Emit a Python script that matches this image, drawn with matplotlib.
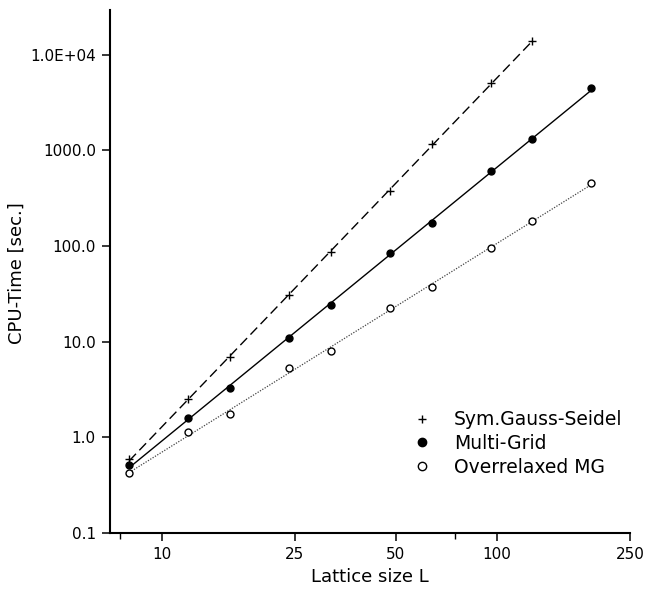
import numpy as np
import matplotlib
matplotlib.use('Agg')
import matplotlib.pyplot as plt
from matplotlib.ticker import FixedLocator, FixedFormatter, NullLocator


# lattice sizes and CPU times
lattice = [8, 12, 16, 24, 32, 48, 64, 96, 128, 192]
gauss_seidel = [0.596, 2.51, 6.89, 30.8, 86, 379, 1158, 5025, 13900]
multi_grid = [0.512, 1.59, 3.31, 10.9, 24.2, 84, 176, 609, 1306, 4456]
overrelaxed = [0.423, 1.13, 1.76, 5.37, 8.0, 22.4, 37.7, 94.9, 184, 453]

x_ticks = [10, 25, 50, 100, 250]
x_minor = [7.5, 75]
y_ticks = [0.1, 1, 10, 100, 1000, 10000]
y_labels = ['0.1', '1.0', '10.0', '100.0', '1000.0', '1.0E+04']

plt.rcParams['font.family'] = 'DejaVu Sans'

fig = plt.figure(figsize=(6.46, 5.91), dpi=100)
ax = fig.add_axes([0.170, 0.098, 0.805, 0.885])


def fit_line(x, y):
    # straight power-law fit in log-log space, as drawn in the original
    lx, ly = np.log10(x), np.log10(y)
    k, c = np.polyfit(lx, ly, 1)
    xs = np.array([x[0], x[-1]], dtype=float)
    return xs, 10 ** (c + k * np.log10(xs))


series = [
    (lattice[:len(gauss_seidel)], gauss_seidel, '+', 'black', 'black', (0, (7, 3.5)), 'black', 1.0),
    (lattice, multi_grid, 'o', 'black', 'black', '-', 'black', 1.0),
    (lattice, overrelaxed, 'o', 'white', 'black', (0, (1, 1.2)), '#444444', 0.9),
]

for x, y, m, fc, ec, ls, lc, lw in series:
    xs, ys = fit_line(x, y)
    ax.plot(xs, ys, linestyle=ls, color=lc, linewidth=lw)
    ax.plot(x, y, linestyle='none', marker=m, markersize=5 if m == 'o' else 6,
            markerfacecolor=fc, markeredgecolor=ec, markeredgewidth=1.0)

ax.set_xscale('log')
ax.set_yscale('log')
ax.set_xlim(7.0, 250)
ax.set_ylim(0.1, 2.93e4)

ax.xaxis.set_major_locator(FixedLocator(x_ticks))
ax.xaxis.set_major_formatter(FixedFormatter([str(t) for t in x_ticks]))
ax.xaxis.set_minor_locator(FixedLocator(x_minor))
ax.xaxis.set_minor_formatter(FixedFormatter(['', '']))
ax.yaxis.set_major_locator(FixedLocator(y_ticks))
ax.yaxis.set_major_formatter(FixedFormatter(y_labels))
ax.yaxis.set_minor_locator(NullLocator())

ax.tick_params(which='major', direction='out', length=6, width=1.1, labelsize=11, pad=4)
ax.tick_params(which='minor', direction='out', length=4, width=1.0)

for side in ['top', 'right']:
    ax.spines[side].set_visible(False)
for side in ['left', 'bottom']:
    ax.spines[side].set_linewidth(1.5)

ax.set_xlabel('Lattice size L', fontsize=13, labelpad=4)
ax.set_ylabel('CPU-Time [sec.]', fontsize=13)
ax.yaxis.set_label_coords(-0.1615, 0.497)

# legend entries placed by hand like the original key
labels = ['Sym.Gauss-Seidel', 'Multi-Grid', 'Overrelaxed MG']
handles = [
    plt.Line2D([], [], linestyle='none', marker='+', color='black', markersize=6),
    plt.Line2D([], [], linestyle='none', marker='o', markerfacecolor='black',
               markeredgecolor='black', markersize=6),
    plt.Line2D([], [], linestyle='none', marker='o', markerfacecolor='white',
               markeredgecolor='black', markersize=6),
]
ax.legend(handles, labels, loc='upper left', bbox_to_anchor=(0.5685, 0.249),
          frameon=False, fontsize=13.5, handletextpad=1.2, labelspacing=0.25,
          handlelength=1.0, borderaxespad=0)

fig.savefig('out.png', dpi=100)
